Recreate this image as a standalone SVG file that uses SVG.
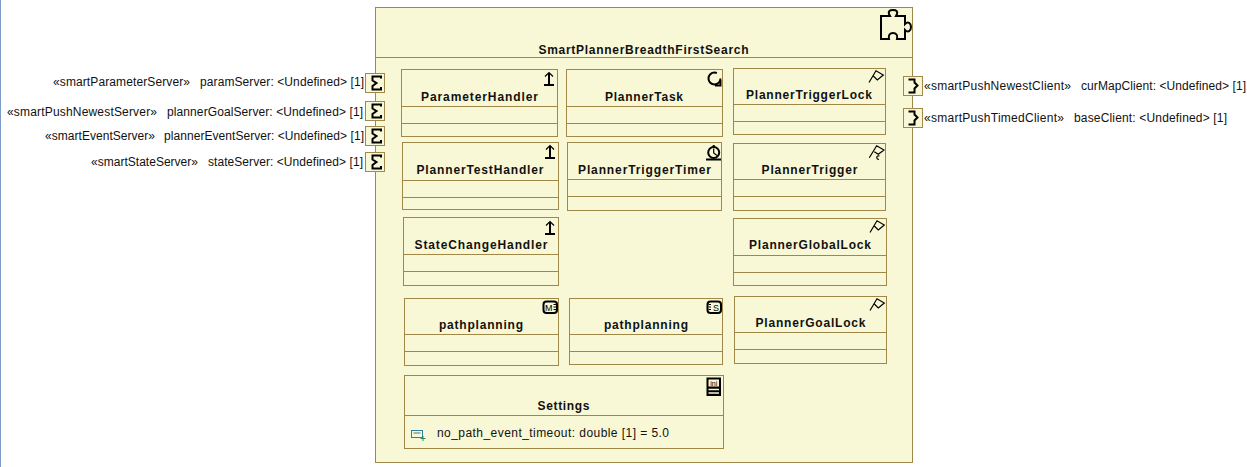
<svg xmlns="http://www.w3.org/2000/svg" width="1247" height="467" viewBox="0 0 1247 467">
<style>
.b{fill:#f8f8d6;stroke:#a08848;stroke-width:1}
.l{stroke:#a08848;stroke-width:1;fill:none}
text{font-family:"Liberation Sans",Arial,sans-serif;fill:#111}
.t{font-size:12px;font-weight:bold;text-anchor:middle}
.p{font-size:12px}
.i{fill:none;stroke:#000;stroke-width:2}
.f{fill:none;stroke:#000;stroke-width:1.2}
.m{font-size:9px;fill:#000}
</style>
<defs>
<g id="up"><path class="i" d="M-5 14H5M0 14V2"/><path class="f" d="M-4 5.5L0 1.5L4 5.5"/></g>
<g id="flag"><path class="f" d="M-8 10.5L-1 -1.3L6.3 3L0.3 8L-3.7 4"/></g>
<g id="pin"><rect class="b" width="19" height="19"/><path class="i" d="M15.5 5V3H7V7L11 9.5L7 12.5V16H15.5V13.5"/></g>
<g id="pout"><rect class="b" width="19" height="19"/><path class="i" d="M5 3H11V6L14 9L11 12V16H5"/></g>
</defs>
<rect width="1" height="467" fill="#7e9cc8"/>
<g id="SmartPlannerBreadthFirstSearch">
<rect class="b" x="375.5" y="7.5" width="537" height="455"/>
<path class="l" d="M375.5 57.5H912.5"/>
<text class="t" x="643.5" y="54" textLength="210" lengthAdjust="spacing">SmartPlannerBreadthFirstSearch</text>
<path fill="none" stroke="#000" stroke-width="2" d="M881 16H890C887 11 890 10 893 10C896 10 899 11 896 16H905V24C908 21 911 23 911 27C911 31 908 33 905 30V39H897C898 35 896 33 893 33C890 33 888 35 889 39H881Z"/>
</g>
<g id="paramServer">
<use href="#pin" x="365.5" y="73.5"/>
<text class="p" x="53" y="86" textLength="137" lengthAdjust="spacing">«smartParameterServer»</text>
<text class="p" x="200" y="86" textLength="164" lengthAdjust="spacing">paramServer: &lt;Undefined&gt; [1]</text>
</g>
<g id="plannerGoalServer">
<use href="#pin" x="365.5" y="101.5"/>
<text class="p" x="7" y="116" textLength="150" lengthAdjust="spacing">«smartPushNewestServer»</text>
<text class="p" x="167" y="116" textLength="196" lengthAdjust="spacing">plannerGoalServer: &lt;Undefined&gt; [1]</text>
</g>
<g id="plannerEventServer">
<use href="#pin" x="365.5" y="126.5"/>
<text class="p" x="45" y="140" textLength="110" lengthAdjust="spacing">«smartEventServer»</text>
<text class="p" x="164" y="140" textLength="200" lengthAdjust="spacing">plannerEventServer: &lt;Undefined&gt; [1]</text>
</g>
<g id="stateServer">
<use href="#pin" x="365.5" y="152.5"/>
<text class="p" x="91" y="166" textLength="107" lengthAdjust="spacing">«smartStateServer»</text>
<text class="p" x="208" y="166" textLength="155" lengthAdjust="spacing">stateServer: &lt;Undefined&gt; [1]</text>
</g>
<g id="curMapClient">
<use href="#pout" x="903.5" y="76.5"/>
<text class="p" x="924" y="90" textLength="147" lengthAdjust="spacing">«smartPushNewestClient»</text>
<text class="p" x="1081" y="90" textLength="165" lengthAdjust="spacing">curMapClient: &lt;Undefined&gt; [1]</text>
</g>
<g id="baseClient">
<use href="#pout" x="903.5" y="108.5"/>
<text class="p" x="924" y="122" textLength="140" lengthAdjust="spacing">«smartPushTimedClient»</text>
<text class="p" x="1074" y="122" textLength="153" lengthAdjust="spacing">baseClient: &lt;Undefined&gt; [1]</text>
</g>
<g id="ParameterHandler">
<rect class="b" x="401.5" y="69.5" width="156" height="67"/>
<path class="l" d="M401.5 106.5H557.5M401.5 123.5H557.5"/>
<text class="t" x="479.5" y="101" textLength="117" lengthAdjust="spacing">ParameterHandler</text>
<use href="#up" x="549" y="71"/>
</g>
<g id="PlannerTask">
<rect class="b" x="566.5" y="69.5" width="156" height="67"/>
<path class="l" d="M566.5 106.5H722.5M566.5 123.5H722.5"/>
<text class="t" x="644" y="101" textLength="78" lengthAdjust="spacing">PlannerTask</text>
<circle class="i" cx="714.5" cy="78.5" r="6" stroke-dasharray="30 8"/>
<path class="i" d="M715 85.5H720.5V80"/>
</g>
<g id="PlannerTriggerLock">
<rect class="b" x="733.5" y="68.5" width="152" height="66"/>
<path class="l" d="M733.5 104.5H885.5M733.5 121.5H885.5"/>
<text class="t" x="809" y="99" textLength="126" lengthAdjust="spacing">PlannerTriggerLock</text>
<use href="#flag" x="877" y="72"/>
</g>
<g id="PlannerTestHandler">
<rect class="b" x="402.5" y="142.5" width="156" height="67"/>
<path class="l" d="M402.5 180.5H558.5M402.5 197.5H558.5"/>
<text class="t" x="480" y="174" textLength="127" lengthAdjust="spacing">PlannerTestHandler</text>
<use href="#up" x="550" y="144"/>
</g>
<g id="PlannerTriggerTimer">
<rect class="b" x="567.5" y="142.5" width="154" height="68"/>
<path class="l" d="M567.5 179.5H721.5M567.5 196.5H721.5"/>
<text class="t" x="644.5" y="174" textLength="133" lengthAdjust="spacing">PlannerTriggerTimer</text>
<circle class="i" cx="713.7" cy="152.5" r="5.5"/>
<path class="f" d="M713.7 148.5V153L717 155.5"/>
<path class="i" d="M706 159.5H721M713.7 145V147"/>
</g>
<g id="PlannerTrigger">
<rect class="b" x="733.5" y="143.5" width="152" height="67"/>
<path class="l" d="M733.5 179.5H885.5M733.5 196.5H885.5"/>
<text class="t" x="809.5" y="174" textLength="96" lengthAdjust="spacing">PlannerTrigger</text>
<path class="f" d="M869.3 157.7L876.7 145.7L884 150L878.3 154.3L874.3 151.7M879.5 156C876.5 155 875.5 159 879 159.5"/>
</g>
<g id="StateChangeHandler">
<rect class="b" x="403.5" y="217.5" width="155" height="68"/>
<path class="l" d="M403.5 254.5H558.5M403.5 271.5H558.5"/>
<text class="t" x="481" y="249" textLength="133" lengthAdjust="spacing">StateChangeHandler</text>
<use href="#up" x="550" y="220"/>
</g>
<g id="PlannerGlobalLock">
<rect class="b" x="733.5" y="218.5" width="153" height="67"/>
<path class="l" d="M733.5 255.5H886.5M733.5 272.5H886.5"/>
<text class="t" x="810" y="249" textLength="122" lengthAdjust="spacing">PlannerGlobalLock</text>
<use href="#flag" x="878" y="222"/>
</g>
<g id="pathplanning-master">
<rect class="b" x="404.5" y="298.5" width="154" height="67"/>
<path class="l" d="M404.5 334.5H558.5M404.5 351.5H558.5"/>
<text class="t" x="481" y="329" textLength="84" lengthAdjust="spacing">pathplanning</text>
<rect x="543.5" y="301.5" width="13.5" height="11.5" rx="3" fill="none" stroke="#000" stroke-width="2"/>
<text class="m" x="545" y="310.5">M</text>
<path d="M553.5 304.5H556M553.5 307H556M553.5 309.5H556" stroke="#000" fill="none"/>
</g>
<g id="pathplanning-slave">
<rect class="b" x="569.5" y="298.5" width="153" height="66"/>
<path class="l" d="M569.5 334.5H722.5M569.5 351.5H722.5"/>
<text class="t" x="646" y="329" textLength="84" lengthAdjust="spacing">pathplanning</text>
<rect x="707.5" y="301.5" width="13.5" height="11.5" rx="3" fill="none" stroke="#000" stroke-width="2"/>
<text class="m" x="713" y="310.5">S</text>
<path d="M708.5 304.5H711M708.5 307H711M708.5 309.5H711" stroke="#000" fill="none"/>
</g>
<g id="PlannerGoalLock">
<rect class="b" x="734.5" y="296.5" width="152" height="67"/>
<path class="l" d="M734.5 332.5H886.5M734.5 349.5H886.5"/>
<text class="t" x="810.5" y="327" textLength="110" lengthAdjust="spacing">PlannerGoalLock</text>
<use href="#flag" x="878" y="300"/>
</g>
<g id="Settings">
<rect class="b" x="404.5" y="375.5" width="319" height="73"/>
<path class="l" d="M404.5 415.5H723.5"/>
<text class="t" x="563.5" y="410" textLength="52" lengthAdjust="spacing">Settings</text>
<rect x="706.5" y="377.5" width="14.5" height="18.5" fill="#000"/>
<rect x="708.5" y="379.5" width="10.5" height="7" fill="#f8f8d6"/>
<path d="M708.5 389.5H719M708.5 393H719" stroke="#f8f8d6" stroke-width="1.5"/>
<text x="713.7" y="385.5" font-size="7" text-anchor="middle" style="fill:#000">ini</text>
<rect x="411.5" y="430.5" width="11" height="7" fill="none" stroke="#2f7f9f"/>
<path d="M413.5 433H420.5" stroke="#2f7f9f" fill="none"/>
<path d="M423 436V441M420.5 438.5H425.5" stroke="#2a8a6a" fill="none"/>
<text class="p" x="437" y="437" textLength="232" lengthAdjust="spacing">no_path_event_timeout: double [1] = 5.0</text>
</g>
<g id="connectors"></g>
</svg>
